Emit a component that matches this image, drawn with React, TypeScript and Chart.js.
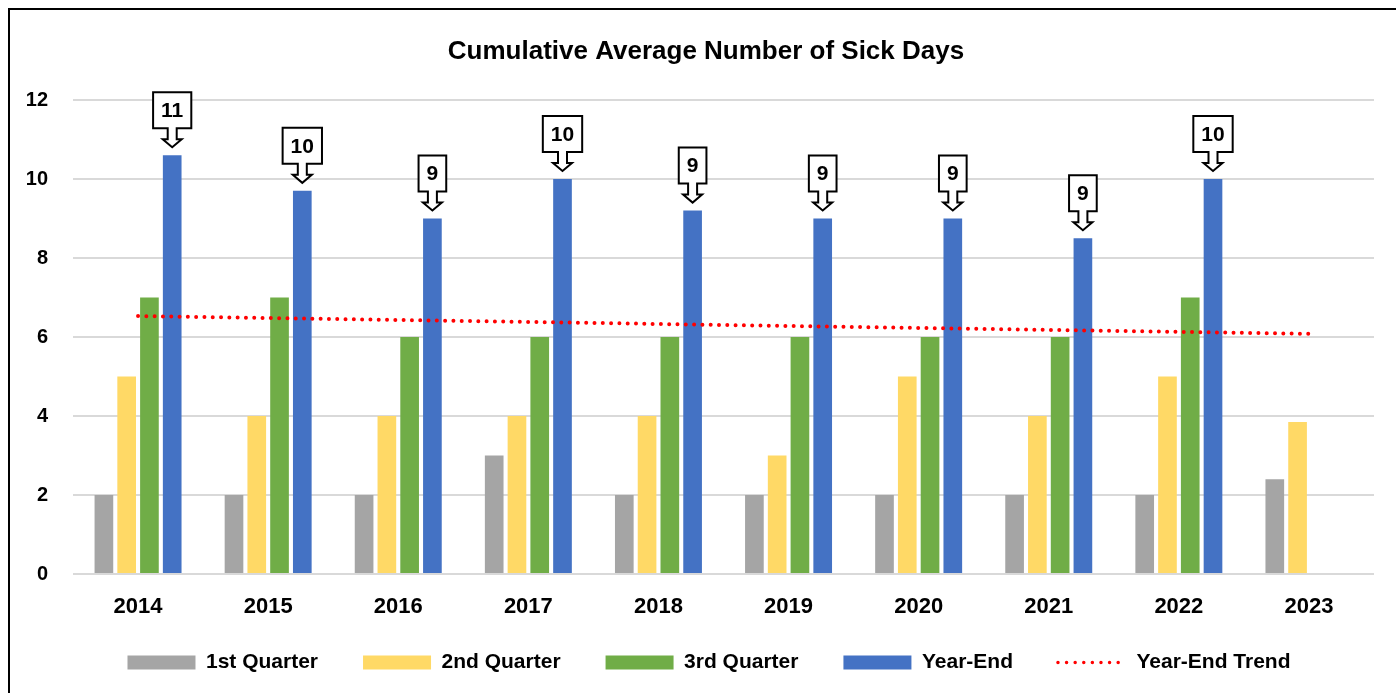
import React, { useEffect, useRef } from "react";
import { Chart, registerables } from "chart.js";

Chart.register(...registerables);

const categories = ["2014", "2015", "2016", "2017", "2018", "2019", "2020", "2021", "2022", "2023"];
const q1Values = [2, 2, 2, 3, 2, 2, 2, 2, 2, 2.4];
const q2Values = [5, 4, 4, 4, 4, 3, 5, 4, 5, 3.85];
const q3Values = [7, 7, 6, 6, 6, 6, 6, 6, 7, null];
const yearEndValues = [10.6, 9.7, 9, 10, 9.2, 9, 9, 8.5, 10, null];
const yearEndLabels = ["11", "10", "9", "10", "9", "9", "9", "9", "10", ""];
const trendValues = [6.53, null, null, null, null, null, null, null, null, 6.08];
const yTicks = [0, 2, 4, 6, 8, 10, 12];

const FONT = "'Liberation Sans', Arial, sans-serif";

const calloutPlugin = {
  id: "callouts",
  afterLayout(chart: any) {
    const lg = chart.legend;
    if (lg) {
      lg.top -= 14;
      lg.bottom -= 14;
      lg.left += 3;
      lg.right += 3;
    }
  },
  afterDatasetsDraw(chart: any) {
    const meta = chart.getDatasetMeta(3);
    const ctx = chart.ctx;
    ctx.save();
    ctx.font = `bold 21px ${FONT}`;
    meta.data.forEach((bar: any, i: number) => {
      const label = yearEndLabels[i];
      if (!label || yearEndValues[i] == null) return;
      const cx = bar.x;
      const top = bar.y;
      const tip = top - 8;
      const headTop = tip - 8;
      const boxBottom = headTop - 11;
      const boxTop = boxBottom - 36;
      const tw = ctx.measureText(label).width;
      const bw = tw + 16;
      const left = cx - bw / 2;
      const right = cx + bw / 2;
      ctx.beginPath();
      ctx.moveTo(left, boxTop);
      ctx.lineTo(right, boxTop);
      ctx.lineTo(right, boxBottom);
      ctx.lineTo(cx + 4.5, boxBottom);
      ctx.lineTo(cx + 4.5, headTop);
      ctx.lineTo(cx + 9.5, headTop);
      ctx.lineTo(cx, tip);
      ctx.lineTo(cx - 9.5, headTop);
      ctx.lineTo(cx - 4.5, headTop);
      ctx.lineTo(cx - 4.5, boxBottom);
      ctx.lineTo(left, boxBottom);
      ctx.closePath();
      ctx.fillStyle = "#ffffff";
      ctx.fill();
      ctx.lineWidth = 2;
      ctx.strokeStyle = "#000000";
      ctx.lineJoin = "miter";
      ctx.stroke();
      ctx.fillStyle = "#000000";
      ctx.textAlign = "center";
      ctx.textBaseline = "middle";
      ctx.fillText(label, cx, (boxTop + boxBottom) / 2 + 1);
    });
    ctx.restore();
  },
};

export default function App() {
  const ref = useRef<HTMLCanvasElement | null>(null);

  useEffect(() => {
    if (!ref.current) return;
    const chart = new Chart(ref.current, {
      type: "bar",
      data: {
        labels: categories,
        datasets: [
          { label: "1st Quarter", data: q1Values, backgroundColor: "#A5A5A5" },
          { label: "2nd Quarter", data: q2Values, backgroundColor: "#FFD966" },
          { label: "3rd Quarter", data: q3Values, backgroundColor: "#70AD47" },
          { label: "Year-End", data: yearEndValues, backgroundColor: "#4472C4" },
          {
            type: "line",
            label: "Year-End Trend",
            data: trendValues,
            spanGaps: true,
            borderColor: "#FF0000",
            backgroundColor: "#FF0000",
            borderWidth: 4,
            borderDash: [0, 8.3],
            borderCapStyle: "round",
            pointRadius: 0,
            order: -1,
          } as any,
        ],
      },
      options: {
        responsive: false,
        animation: false,
        devicePixelRatio: 1,
        datasets: { bar: { categoryPercentage: 0.7, barPercentage: 0.82 } },
        layout: { padding: { left: 0, right: 0, top: 0, bottom: 0 } },
        plugins: {
          tooltip: { enabled: false },
          title: {
            display: true,
            text: "Cumulative Average Number of Sick Days",
            color: "#000",
            font: { family: FONT, size: 26, weight: "bold", lineHeight: 1.2 },
            padding: { top: 26, bottom: 32.8 },
          },
          legend: {
            position: "bottom",
            sort: (a: any, b: any) => a.datasetIndex - b.datasetIndex,
            labels: {
              color: "#000",
              font: { family: FONT, size: 21, weight: "bold" },
              usePointStyle: true,
              pointStyleWidth: 68,
              boxWidth: 68,
              boxHeight: 14,
              padding: 45,
              generateLabels: (c: any) =>
                c.data.datasets.map((ds: any, i: number) => {
                  const isLine = ds.type === "line";
                  return {
                    text: ds.label,
                    datasetIndex: i,
                    fillStyle: isLine ? "rgba(0,0,0,0)" : ds.backgroundColor,
                    strokeStyle: isLine ? ds.borderColor : "rgba(0,0,0,0)",
                    lineWidth: isLine ? 3.5 : 0,
                    lineDash: isLine ? [0, 8.6] : [],
                    lineCap: "round",
                    pointStyle: isLine ? "line" : "rect",
                    hidden: false,
                    fontColor: "#000",
                  };
                }),
            },
          },
        },
        scales: {
          x: {
            grid: { display: false, drawTicks: false },
            border: { display: false },
            ticks: {
              color: "#000",
              padding: 20,
              font: { family: FONT, size: 22, weight: "bold", lineHeight: 1.2 },
            },
            afterFit: (s: any) => {
              s.height = 47;
            },
          },
          y: {
            min: 0,
            max: 12,
            afterBuildTicks: (s: any) => {
              s.ticks = yTicks.map((v) => ({ value: v }));
            },
            grid: { color: "#D9D9D9", lineWidth: 2, drawTicks: false },
            border: { display: false },
            ticks: {
              color: "#000",
              padding: 25,
              font: { family: FONT, size: 20, weight: "bold" },
            },
            afterFit: (s: any) => {
              s.width = 63;
            },
          },
          y2: {
            position: "right",
            display: true,
            grid: { display: false, drawTicks: false },
            border: { display: false },
            ticks: { display: false },
            afterFit: (s: any) => {
              s.width = 28;
            },
          },
        },
      },
      plugins: [calloutPlugin],
    } as any);
    return () => chart.destroy();
  }, []);

  return (
    <div
      style={{
        position: "fixed",
        left: 8,
        top: 8,
        width: 1420,
        height: 710,
        border: "2px solid #000",
        boxSizing: "border-box",
        background: "#fff",
      }}
    >
      <canvas ref={ref} width={1392} height={687} style={{ display: "block", width: 1392, height: 687 }} />
    </div>
  );
}
